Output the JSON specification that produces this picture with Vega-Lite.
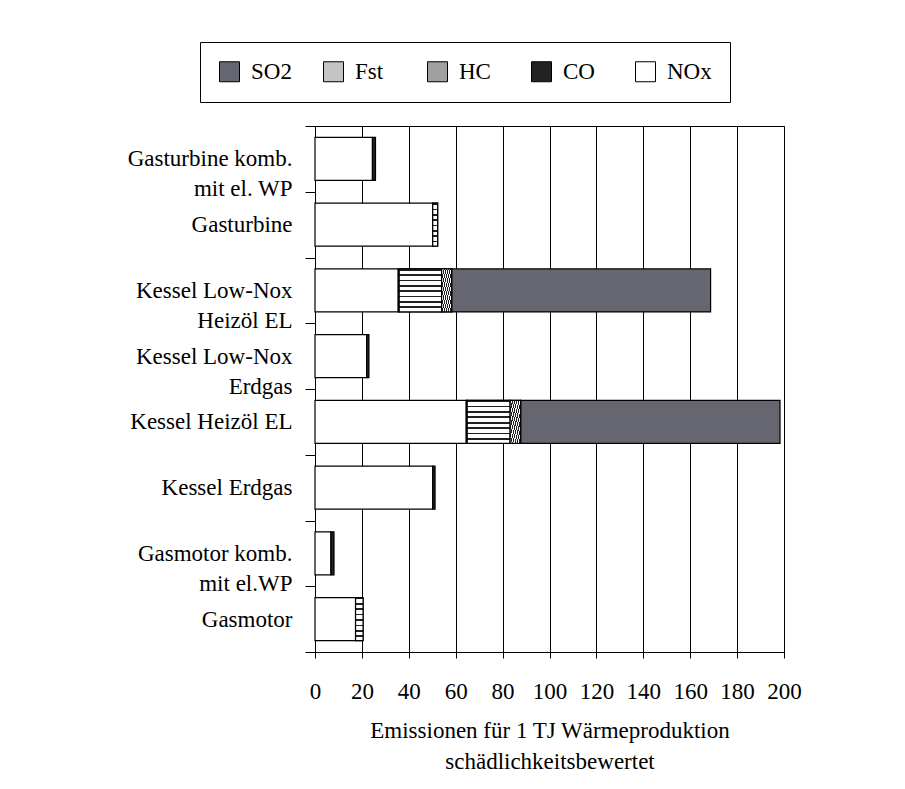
{
  "$schema": "https://vega.github.io/schema/vega-lite/v6.json",
  "width": 469,
  "height": 526,
  "padding": {"left": 127, "top": 41, "right": 5, "bottom": 5},
  "background": "white",
  "config": {"font": "Liberation Serif", "view": {"stroke": "black", "strokeWidth": 1}},
  "data": {"values": [
    {"anlage": "Gasturbine komb.\nmit el. WP", "stoff": "NOx", "wert": 24.5},
    {"anlage": "Gasturbine komb.\nmit el. WP", "stoff": "CO", "wert": 1.3},
    {"anlage": "Gasturbine", "stoff": "NOx", "wert": 50.2},
    {"anlage": "Gasturbine", "stoff": "HC", "wert": 2.1},
    {"anlage": "Kessel Low-Nox\nHeizöl EL", "stoff": "NOx", "wert": 35.5},
    {"anlage": "Kessel Low-Nox\nHeizöl EL", "stoff": "CO", "wert": 0.4},
    {"anlage": "Kessel Low-Nox\nHeizöl EL", "stoff": "HC", "wert": 18.1},
    {"anlage": "Kessel Low-Nox\nHeizöl EL", "stoff": "Fst", "wert": 4.3},
    {"anlage": "Kessel Low-Nox\nHeizöl EL", "stoff": "SO2", "wert": 110.4},
    {"anlage": "Kessel Low-Nox\nErdgas", "stoff": "NOx", "wert": 22.0},
    {"anlage": "Kessel Low-Nox\nErdgas", "stoff": "CO", "wert": 1.0},
    {"anlage": "Kessel Heizöl EL", "stoff": "NOx", "wert": 64.5},
    {"anlage": "Kessel Heizöl EL", "stoff": "CO", "wert": 0.4},
    {"anlage": "Kessel Heizöl EL", "stoff": "HC", "wert": 18.3},
    {"anlage": "Kessel Heizöl EL", "stoff": "Fst", "wert": 4.5},
    {"anlage": "Kessel Heizöl EL", "stoff": "SO2", "wert": 110.6},
    {"anlage": "Kessel Erdgas", "stoff": "NOx", "wert": 50.2},
    {"anlage": "Kessel Erdgas", "stoff": "CO", "wert": 1.0},
    {"anlage": "Gasmotor komb.\nmit el.WP", "stoff": "NOx", "wert": 6.8},
    {"anlage": "Gasmotor komb.\nmit el.WP", "stoff": "CO", "wert": 1.3},
    {"anlage": "Gasmotor", "stoff": "NOx", "wert": 17.3},
    {"anlage": "Gasmotor", "stoff": "HC", "wert": 3.2}
  ]},
  "transform": [
    {"calculate": "indexof(['NOx', 'CO', 'HC', 'Fst', 'SO2'], datum.stoff)", "as": "rang"},
    {"stack": "wert", "groupby": ["anlage"], "sort": [{"field": "rang", "order": "ascending"}], "as": ["x0", "x1"]}
  ],
  "encoding": {
    "y": {
      "field": "anlage",
      "type": "nominal",
      "sort": ["Gasturbine komb.\nmit el. WP", "Gasturbine", "Kessel Low-Nox\nHeizöl EL", "Kessel Low-Nox\nErdgas", "Kessel Heizöl EL", "Kessel Erdgas", "Gasmotor komb.\nmit el.WP", "Gasmotor"],
      "scale": {"paddingInner": 0, "paddingOuter": 0},
      "axis": {
        "title": null,
        "domainColor": "black",
        "tickColor": "black",
        "tickSize": 10,
        "tickBand": "extent",
        "grid": false,
        "labelExpr": "split(datum.label, '\\n')",
        "labelFont": "Liberation Serif",
        "labelFontSize": 23,
        "labelColor": "black",
        "labelLineHeight": 30,
        "labelLimit": 400,
        "labelAlign": "right",
        "labelPadding": 13
      }
    },
    "x": {
      "field": "x0",
      "type": "quantitative",
      "scale": {"domain": [0, 200], "nice": false},
      "axis": {
        "title": ["Emissionen für 1 TJ Wärmeproduktion", "schädlichkeitsbewertet"],
        "values": [0, 20, 40, 60, 80, 100, 120, 140, 160, 180, 200],
        "grid": true,
        "gridColor": "black",
        "gridOpacity": 1,
        "gridWidth": 1,
        "domainColor": "black",
        "tickColor": "black",
        "tickSize": 6,
        "labelFont": "Liberation Serif",
        "labelFontSize": 23,
        "labelColor": "black",
        "labelPadding": 22,
        "labelFlush": false,
        "labelOverlap": false,
        "titleFont": "Liberation Serif",
        "titleFontSize": 23,
        "titleFontWeight": "normal",
        "titleColor": "black",
        "titleLineHeight": 31,
        "titlePadding": 16
      }
    },
    "x2": {"field": "x1"}
  },
  "layer": [
    {
      "mark": {"type": "bar", "size": 43, "stroke": "black", "strokeWidth": 1.2},
      "encoding": {
        "color": {
          "field": "stoff",
          "type": "nominal",
          "scale": {
            "domain": ["SO2", "Fst", "HC", "CO", "NOx"],
            "range": ["#666670", "#c4c4c4", "#a0a0a0", "#222222", "#ffffff"]
          },
          "legend": {
            "title": null,
            "orient": "none",
            "legendX": -115,
            "legendY": -84,
            "direction": "horizontal",
            "columns": 5,
            "symbolType": "square",
            "symbolSize": 400,
            "symbolStrokeColor": "black",
            "symbolStrokeWidth": 1,
            "symbolOpacity": 1,
            "labelFont": "Liberation Serif",
            "labelFontSize": 23,
            "labelColor": "black",
            "labelOffset": 10,
            "labelLimit": 200,
            "columnPadding": 25,
            "gridAlign": "all",
            "padding": 18,
            "strokeColor": "black",
            "fillColor": "white"
          }
        }
      }
    },
    {
      "transform": [{"filter": "datum.stoff === 'HC'"}],
      "mark": {"type": "bar", "size": 43, "stroke": "black", "strokeWidth": 1.2, "color": {"gradient": "linear", "x1": 0, "y1": 0, "x2": 0, "y2": 1, "stops": [
        {"offset": 0, "color": "#222222"}, {"offset": 0.04, "color": "#222222"}, {"offset": 0.04, "color": "#ffffff"}, {"offset": 0.125, "color": "#ffffff"},
        {"offset": 0.125, "color": "#222222"}, {"offset": 0.165, "color": "#222222"}, {"offset": 0.165, "color": "#ffffff"}, {"offset": 0.25, "color": "#ffffff"},
        {"offset": 0.25, "color": "#222222"}, {"offset": 0.29, "color": "#222222"}, {"offset": 0.29, "color": "#ffffff"}, {"offset": 0.375, "color": "#ffffff"},
        {"offset": 0.375, "color": "#222222"}, {"offset": 0.415, "color": "#222222"}, {"offset": 0.415, "color": "#ffffff"}, {"offset": 0.5, "color": "#ffffff"},
        {"offset": 0.5, "color": "#222222"}, {"offset": 0.54, "color": "#222222"}, {"offset": 0.54, "color": "#ffffff"}, {"offset": 0.625, "color": "#ffffff"},
        {"offset": 0.625, "color": "#222222"}, {"offset": 0.665, "color": "#222222"}, {"offset": 0.665, "color": "#ffffff"}, {"offset": 0.75, "color": "#ffffff"},
        {"offset": 0.75, "color": "#222222"}, {"offset": 0.79, "color": "#222222"}, {"offset": 0.79, "color": "#ffffff"}, {"offset": 0.875, "color": "#ffffff"},
        {"offset": 0.875, "color": "#222222"}, {"offset": 0.915, "color": "#222222"}, {"offset": 0.915, "color": "#ffffff"}, {"offset": 1, "color": "#ffffff"}
      ]}}
    },
    {
      "transform": [{"filter": "datum.stoff === 'Fst'"}],
      "mark": {"type": "bar", "size": 43, "stroke": "black", "strokeWidth": 1.2, "color": {"gradient": "linear", "x1": 0, "y1": 0, "x2": 1, "y2": 1, "stops": [
        {"offset": 0, "color": "#222222"}, {"offset": 0.05, "color": "#222222"}, {"offset": 0.05, "color": "#ffffff"}, {"offset": 0.1, "color": "#ffffff"},
        {"offset": 0.1, "color": "#222222"}, {"offset": 0.15, "color": "#222222"}, {"offset": 0.15, "color": "#ffffff"}, {"offset": 0.2, "color": "#ffffff"},
        {"offset": 0.2, "color": "#222222"}, {"offset": 0.25, "color": "#222222"}, {"offset": 0.25, "color": "#ffffff"}, {"offset": 0.3, "color": "#ffffff"},
        {"offset": 0.3, "color": "#222222"}, {"offset": 0.35, "color": "#222222"}, {"offset": 0.35, "color": "#ffffff"}, {"offset": 0.4, "color": "#ffffff"},
        {"offset": 0.4, "color": "#222222"}, {"offset": 0.45, "color": "#222222"}, {"offset": 0.45, "color": "#ffffff"}, {"offset": 0.5, "color": "#ffffff"},
        {"offset": 0.5, "color": "#222222"}, {"offset": 0.55, "color": "#222222"}, {"offset": 0.55, "color": "#ffffff"}, {"offset": 0.6, "color": "#ffffff"},
        {"offset": 0.6, "color": "#222222"}, {"offset": 0.65, "color": "#222222"}, {"offset": 0.65, "color": "#ffffff"}, {"offset": 0.7, "color": "#ffffff"},
        {"offset": 0.7, "color": "#222222"}, {"offset": 0.75, "color": "#222222"}, {"offset": 0.75, "color": "#ffffff"}, {"offset": 0.8, "color": "#ffffff"},
        {"offset": 0.8, "color": "#222222"}, {"offset": 0.85, "color": "#222222"}, {"offset": 0.85, "color": "#ffffff"}, {"offset": 0.9, "color": "#ffffff"},
        {"offset": 0.9, "color": "#222222"}, {"offset": 0.95, "color": "#222222"}, {"offset": 0.95, "color": "#ffffff"}, {"offset": 1, "color": "#ffffff"}
      ]}}
    }
  ]
}
